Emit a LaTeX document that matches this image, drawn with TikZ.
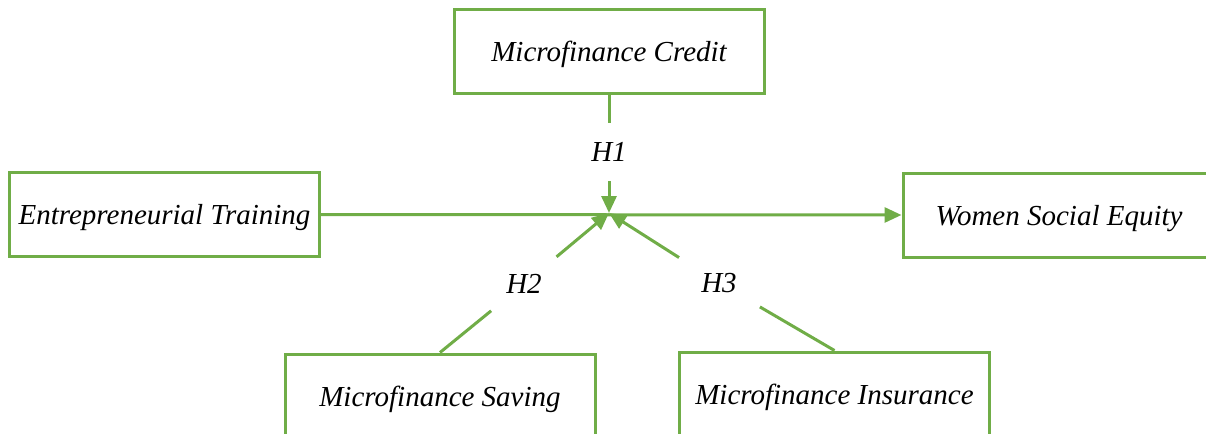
\documentclass[tikz,border=0pt]{standalone}
\usepackage{fontspec}
\setmainfont{Liberation Serif}
\usetikzlibrary{arrows.meta}
\definecolor{frgreen}{HTML}{70AD47}
\begin{document}
\begin{tikzpicture}[x=0.5pt,y=-0.5pt,
  varbox/.style={draw=frgreen,line width=1.5pt,minimum width=155pt,minimum height=42pt,inner sep=0pt,
    text height=12pt,text depth=2pt,
    font=\fontsize{14.5}{17}\selectfont\itshape},
  hlabel/.style={circle,inner sep=0pt,font=\fontsize{14.5}{17}\selectfont\itshape},
  link/.style={frgreen,line width=1.5pt},
  arr/.style={link,-{Triangle[length=8.5pt,width=7.5pt]}}]
\useasboundingbox (0,0) rectangle (1206,434);
\clip (0,0) rectangle (1206,434);
\node[varbox] (mc) at (609,51) {Microfinance Credit};
\node[varbox] (et) at (164.5,214.5) {Entrepreneurial Training};
\node[varbox,minimum width=156pt] (ws) at (1059,215) {Women Social Equity};
\node[varbox] (ms) at (440,396) {Microfinance Saving};
\node[varbox] (mi) at (834.5,394) {Microfinance Insurance};
\coordinate (J) at (609,213);
\node[hlabel,minimum size=29pt] (h1) at (609,152) {H1};
\node[hlabel,minimum size=42pt] (h2) at (524,284) {H2};
\node[hlabel,minimum size=47pt] (h3) at (719,283) {H3};
\draw[arr] (et.east) -- (ws.west);
\draw[link] (mc.south) -- (h1);
\draw[arr] (h1) -- (J);
\draw[link] (ms.north) -- (h2);
\draw[arr] (h2) -- (J);
\draw[link] (mi.north) -- (h3);
\draw[arr] (h3) -- (J);
\end{tikzpicture}
\end{document}
